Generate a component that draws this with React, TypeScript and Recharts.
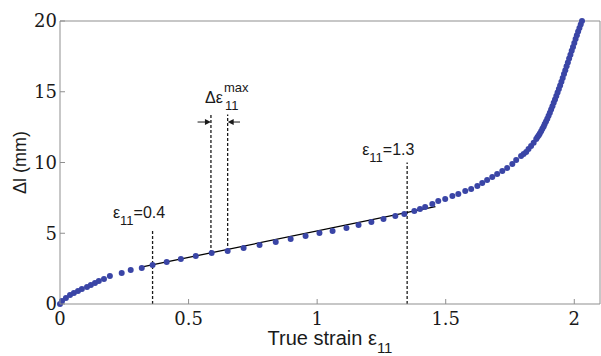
import {
  ComposedChart,
  Scatter,
  Line,
  XAxis,
  YAxis,
  ReferenceLine,
  ReferenceDot,
} from 'recharts';

const BLUE = '#3a45a6';
const AXIS = '#8f8f8f';
const INK = '#1a1a1a';
const SANS = 'Liberation Sans, Arial, sans-serif';
const SERIF = 'DejaVu Serif';

// measured points: true strain vs elongation (mm)
const strainX = [
  0, 0.008, 0.023, 0.039, 0.054, 0.07, 0.085, 0.105, 0.12, 0.136, 0.151, 0.171,
  0.194, 0.24, 0.275, 0.318, 0.36, 0.415, 0.47, 0.528, 0.59, 0.652, 0.714,
  0.776, 0.839, 0.897, 0.955, 1.009, 1.06, 1.114, 1.161, 1.211, 1.258, 1.304,
  1.339, 1.378, 1.4, 1.42, 1.448, 1.471, 1.498, 1.526, 1.549, 1.576, 1.599,
  1.623, 1.642, 1.661, 1.681, 1.7, 1.72, 1.739, 1.759, 1.774, 1.793, 1.803,
  1.813, 1.822, 1.832, 1.842, 1.852, 1.857, 1.862, 1.866, 1.871, 1.876, 1.881,
  1.885, 1.89, 1.895, 1.9, 1.905, 1.91, 1.915, 1.92, 1.925, 1.93, 1.935, 1.94,
  1.945, 1.95, 1.955, 1.96, 1.965, 1.97, 1.975, 1.98, 1.985, 1.99, 1.995, 2.0,
  2.005, 2.01, 2.015, 2.02, 2.025, 2.03,
];
const elongY = [
  0, 0.21, 0.42, 0.64, 0.78, 0.92, 1.06, 1.2, 1.34, 1.48, 1.63, 1.77, 1.98,
  2.19, 2.4, 2.55, 2.76, 2.97, 3.18, 3.39, 3.6, 3.75, 3.96, 4.17, 4.38, 4.59,
  4.81, 5.02, 5.16, 5.37, 5.58, 5.8, 6.01, 6.22, 6.36, 6.57, 6.72, 6.86, 7.07,
  7.28, 7.42, 7.63, 7.77, 7.99, 8.13, 8.34, 8.55, 8.76, 8.98, 9.19, 9.4, 9.61,
  9.89, 10.18, 10.46, 10.6, 10.74, 10.95, 11.17, 11.4, 11.66, 11.8, 11.92,
  12.05, 12.2, 12.38, 12.55, 12.72, 12.9, 13.1, 13.3, 13.52, 13.75, 13.98,
  14.22, 14.46, 14.7, 14.95, 15.2, 15.45, 15.7, 15.97, 16.25, 16.52, 16.8,
  17.07, 17.35, 17.62, 17.9, 18.17, 18.45, 18.72, 19.0, 19.25, 19.5, 19.75,
  20.0,
];

// fitted straight segment
const fitX = [0.32, 1.46];
const fitY = [2.62, 6.88];

const xTicks = [0, 0.5, 1, 1.5, 2];
const yTicks = [0, 5, 10, 15, 20];

// dashed guide lines
const guideX = [0.36, 0.587, 0.652, 1.35];
const guideLow = [0, 3.6, 3.75, 0];
const guideHigh = [5.2, 13.4, 13.4, 10.0];

// small arrows marking the max strain increment
const arrowY = 12.86;
const arrowFrom = [0.535, 0.7];
const arrowTo = [0.587, 0.652];

// strain annotations
const noteX = [0.206, 1.175];
const noteY = [6.08, 10.53];
const noteText = ['=0.4', '=1.3'];
const deltaNote = { x: 0.564, y: 14.2 };

const points = strainX.map((x, i) => ({ x, y: elongY[i] }));
const fitLine = fitX.map((x, i) => ({ x, y: fitY[i] }));

const LABEL_GAP = 8;

function BottomTick({ x, y, payload }: any) {
  const axisY = y - LABEL_GAP;
  return (
    <g>
      <line x1={x} y1={axisY} x2={x} y2={axisY - 5} stroke={AXIS} />
      <text
        x={x}
        y={y}
        dy='0.71em'
        textAnchor='middle'
        fontFamily={SERIF}
        fontSize={18}
        fill={INK}
      >
        {payload.value}
      </text>
    </g>
  );
}

function LeftTick({ x, y, payload }: any) {
  const axisX = x + 3;
  return (
    <g>
      <line x1={axisX} y1={y} x2={axisX + 5} y2={y} stroke={AXIS} />
      <text
        x={x}
        y={y}
        dy='0.355em'
        textAnchor='end'
        fontFamily={SERIF}
        fontSize={18}
        fill={INK}
      >
        {payload.value}
      </text>
    </g>
  );
}

function TopTick({ x, y }: any) {
  return <line x1={x} y1={y} x2={x} y2={y + 5} stroke={AXIS} />;
}

function RightTick({ x, y }: any) {
  return <line x1={x} y1={y} x2={x - 5} y2={y} stroke={AXIS} />;
}

function Arrow({ x1, y1, x2, y2 }: any) {
  const dir = x2 > x1 ? 1 : -1;
  return (
    <g>
      <line x1={x1} y1={y1} x2={x2 - dir * 5} y2={y2} stroke={INK} strokeWidth={1} />
      <polygon
        points={`${x2},${y2} ${x2 - dir * 6},${y2 - 3} ${x2 - dir * 6},${y2 + 3}`}
        fill={INK}
      />
    </g>
  );
}

export default function App() {
  return (
    <div
      style={{
        position: 'absolute',
        left: 0,
        top: 0,
        width: 601,
        height: 356,
        background: '#fff',
      }}
    >
      <ComposedChart
        width={601}
        height={356}
        margin={{ top: 20, right: 0, bottom: 0, left: 0 }}
      >
        <XAxis
          dataKey='x'
          type='number'
          domain={[0, 2.1]}
          ticks={xTicks}
          height={52}
          tickSize={0}
          tickMargin={LABEL_GAP}
          tick={<BottomTick />}
          axisLine={{ stroke: AXIS }}
          label={{
            content: ({ viewBox }: any) => (
              <text
                x={viewBox.x + viewBox.width / 2}
                y={viewBox.y + 41}
                textAnchor='middle'
                fontFamily={SANS}
                fontSize={20}
                fill={INK}
              >
                True strain ε
                <tspan dy={8} fontSize={15}>
                  11
                </tspan>
              </text>
            ),
          }}
        />
        <XAxis
          xAxisId='top'
          orientation='top'
          dataKey='x'
          type='number'
          domain={[0, 2.1]}
          ticks={xTicks}
          height={1}
          tickSize={0}
          tickMargin={0}
          tick={<TopTick />}
          axisLine={{ stroke: AXIS }}
        />
        <YAxis
          dataKey='y'
          type='number'
          domain={[0, 20]}
          ticks={yTicks}
          width={60}
          tickSize={0}
          tickMargin={3}
          tick={<LeftTick />}
          axisLine={{ stroke: AXIS }}
          label={{
            content: ({ viewBox }: any) => (
              <text
                x={20}
                y={viewBox.y + viewBox.height / 2}
                transform={`rotate(-90, 20, ${viewBox.y + viewBox.height / 2})`}
                textAnchor='middle'
                dominantBaseline='central'
                fontFamily={SANS}
                fontSize={18}
                fill={INK}
              >
                Δl (mm)
              </text>
            ),
          }}
        />
        <YAxis
          yAxisId='right'
          orientation='right'
          type='number'
          domain={[0, 20]}
          ticks={yTicks}
          width={1}
          tickSize={0}
          tickMargin={0}
          tick={<RightTick />}
          axisLine={{ stroke: AXIS }}
        />

        {guideX.map((gx, i) => (
          <ReferenceLine
            key={`guide-${i}`}
            segment={[
              { x: gx, y: guideLow[i] },
              { x: gx, y: guideHigh[i] },
            ]}
            stroke={INK}
            strokeWidth={1.3}
            strokeDasharray='3 2'
          />
        ))}
        {arrowFrom.map((ax, i) => (
          <ReferenceLine
            key={`arrow-${i}`}
            segment={[
              { x: ax, y: arrowY },
              { x: arrowTo[i], y: arrowY },
            ]}
            shape={(p: any) => <Arrow {...p} />}
          />
        ))}

        <Scatter
          data={points}
          isAnimationActive={false}
          shape={(p: any) => <circle cx={p.cx} cy={p.cy} r={3} fill={BLUE} />}
        />
        <Line
          data={fitLine}
          dataKey='y'
          stroke='#000'
          strokeWidth={1.3}
          dot={false}
          activeDot={false}
          isAnimationActive={false}
        />

        {noteX.map((nx, i) => (
          <ReferenceDot
            key={`note-${i}`}
            x={nx}
            y={noteY[i]}
            r={0}
            shape={(p: any) => (
              <text
                x={p.cx}
                y={p.cy}
                fontFamily={SANS}
                fontSize={16}
                fill={INK}
              >
                ε
                <tspan dy={7} fontSize={13}>
                  11
                </tspan>
                <tspan dy={-7} fontSize={16}>
                  {noteText[i]}
                </tspan>
              </text>
            )}
          />
        ))}
        <ReferenceDot
          x={deltaNote.x}
          y={deltaNote.y}
          r={0}
          shape={(p: any) => (
            <g fontFamily={SANS} fill={INK}>
              <text x={p.cx} y={p.cy} fontSize={16}>
                Δε
              </text>
              <text x={p.cx + 19} y={p.cy - 11} fontSize={13}>
                max
              </text>
              <text x={p.cx + 20} y={p.cy + 7} fontSize={13}>
                11
              </text>
            </g>
          )}
        />
      </ComposedChart>
    </div>
  );
}
